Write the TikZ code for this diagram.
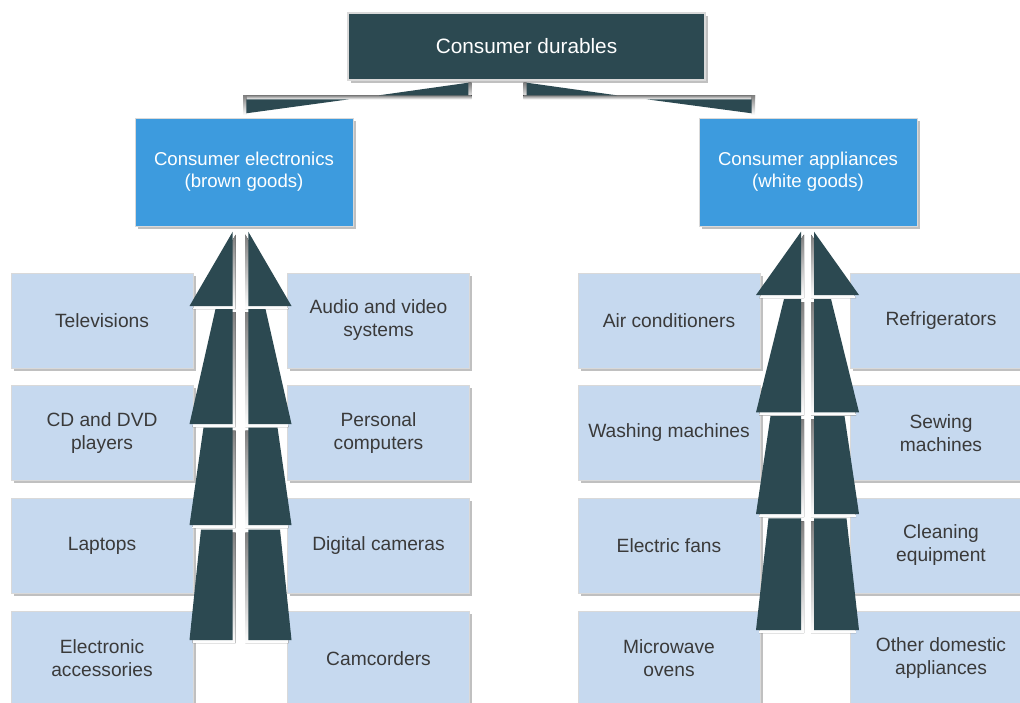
\documentclass[tikz,border=0pt]{standalone}
\usepackage{fontspec}
\setmainfont{Liberation Sans}
\usepackage{tikz}
\usetikzlibrary{shadows}
\definecolor{slate}{RGB}{44,73,81}
\definecolor{skyblue}{RGB}{61,155,222}
\definecolor{paleblue}{RGB}{198,217,239}
\definecolor{shade}{RGB}{192,192,192}
\definecolor{ink}{RGB}{58,58,58}

\tikzset{
    boxshadow/.style={drop shadow={shadow xshift=1.4pt, shadow yshift=-1.4pt, fill=shade, opacity=1}},
    itembox/.style={boxshadow, fill=paleblue, draw=shade!60, line width=0.5pt, inner sep=0pt,
        minimum width=91pt, minimum height=47.5pt, align=center, text=ink, font=\fontsize{9.6}{11.5}\selectfont},
    groupbox/.style={boxshadow, fill=skyblue, draw=shade!60, line width=0.5pt, inner sep=0pt,
        minimum width=109pt, minimum height=54pt, align=center, text=white, font=\fontsize{9.3}{11}\selectfont},
    rootbox/.style={boxshadow, fill=slate, draw=shade!60, line width=0.8pt, inner sep=0pt,
        minimum width=178.5pt, minimum height=33.5pt, text=white, font=\fontsize{10.4}{12}\selectfont},
}

% cx, half gap, outer half width, base of head, segments ytop/ybottom/top half width
\newcommand{\arrowcolumn}[5]{%
    \begin{scope}[shift={(#1,0)}]
        \foreach \s in {1,-1}{
            \begin{scope}[xscale=\s]
                \foreach \d/\c in {3/shade,0/slate}{
                    \fill[\c] (-#2+\d,231.7+\d) -- (-#2+\d,#4+\d) -- (-#3+\d,#4+\d) -- cycle;
                    \foreach \ya/\yb/\w in {#5}
                        \fill[\c] (-#2+\d,\ya+\d) -- (-\w+\d,\ya+\d) -- (-#3+\d,\yb+\d) -- (-#2+\d,\yb+\d) -- cycle;
                }
            \end{scope}
        }
    \end{scope}
}

\begin{document}
\begin{tikzpicture}[x=0.5pt, y=-0.5pt]

    \useasboundingbox (0,0) rectangle (1020,702);
    \clip (0,0) rectangle (1020,702);

    \node[rootbox] (durables) at (526.5,46.5) {Consumer durables};
    \node[groupbox] (brown) at (244,172) {Consumer electronics\\(brown goods)};
    \node[groupbox] (white) at (808,172) {Consumer appliances\\(white goods)};

    % brown goods
    \node[itembox] (tv) at (102,320.5) {Televisions};
    \node[itembox] (cd) at (102,433) {CD and DVD\\players};
    \node[itembox] (laptops) at (102,545.5) {Laptops};
    \node[itembox] (accessories) at (102,658.5) {Electronic\\accessories};
    \node[itembox] (audio) at (378.5,320.5) {Audio and video\\systems};
    \node[itembox] (pc) at (378.5,433) {Personal\\computers};
    \node[itembox] (cameras) at (378.5,545.5) {Digital cameras};
    \node[itembox] (camcorders) at (378.5,658.5) {Camcorders};

    % white goods
    \node[itembox] (aircon) at (669,320.5) {Air conditioners};
    \node[itembox] (washing) at (669,433) {Washing machines};
    \node[itembox] (fans) at (669,545.5) {Electric fans};
    \node[itembox] (microwave) at (669,658.5) {Microwave\\ovens};
    \node[itembox] (fridges) at (941,320.5) {Refrigerators};
    \node[itembox] (sewing) at (941,433) {Sewing\\machines};
    \node[itembox] (cleaning) at (941,545.5) {Cleaning\\equipment};
    \node[itembox] (domestic) at (941,658.5) {Other domestic\\appliances};

    % split connectors under the root
    \fill[shade] (468.3,82.7) rectangle (471.7,99.3);
    \fill[shade] (243,95.3) rectangle (471.7,99.3);
    \fill[shade] (243,95.3) rectangle (246.3,115);
    \fill[slate] (468.3,82.7) -- (468.3,95.3) -- (379,95.3) -- cycle;
    \fill[slate] (246.3,99.3) -- (349,99.3) -- (246.3,113.3) -- cycle;

    \fill[shade] (523.3,82.7) rectangle (526.7,99.3);
    \fill[shade] (523.3,95.3) rectangle (755,99.3);
    \fill[shade] (751.7,95.3) rectangle (755,115);
    \fill[slate] (526.7,82.7) -- (526.7,95.3) -- (616.7,95.3) -- cycle;
    \fill[slate] (751.7,99.3) -- (646.7,99.3) -- (751.7,113.3) -- cycle;

    % rising arrows
    \arrowcolumn{240.5}{7.8}{51}{306}{309/424/25, 427.5/525/37, 529.5/640/39.5}
    \arrowcolumn{807.5}{6.5}{51.5}{295}{299/412.3/23.5, 416/514/37, 518.3/630/39}

\end{tikzpicture}
\end{document}
